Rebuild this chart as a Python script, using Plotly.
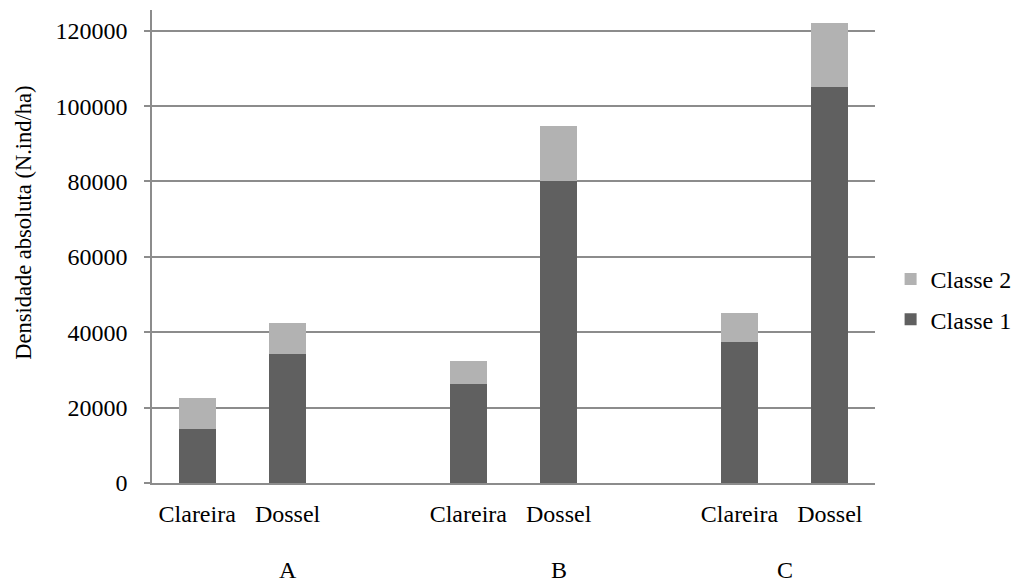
import plotly.graph_objects as go

groups = ["A", "B", "C"]
sites = ["Clareira", "Dossel"]
classe1 = [14300, 34200, 26200, 80000, 37400, 105100]
classe2 = [8200, 8200, 6300, 14700, 7600, 17000]
yticks = [0, 20000, 40000, 60000, 80000, 100000, 120000]

# build category slots: each group has its sites, then a blank spacer (except last)
slots = []
slot_group = []
for gi, g in enumerate(groups):
    for s in sites:
        slots.append(f"{g}|{s}")
        slot_group.append(g)
    if gi < len(groups) - 1:
        slots.append(f"{g}|")
        slot_group.append(g)

xcats = [f"{g}|{s}" for g in groups for s in sites]

FONT = "Liberation Serif, Times New Roman, serif"
DARK = "#606060"
LIGHT = "#b2b2b2"
GRID = "#8c8c8c"
FS = 24

fig = go.Figure()
fig.add_trace(go.Bar(x=xcats, y=classe1, name="Classe 1", marker_color=DARK,
                     marker_line_width=0, legendgroup="c1", legendrank=2))
fig.add_trace(go.Bar(x=xcats, y=classe2, name="Classe 2", marker_color=LIGHT,
                     marker_line_width=0, legendgroup="c2", legendrank=1))

annotations = []
for g in groups:
    idx = [i for i, sg in enumerate(slot_group) if sg == g]
    center = sum(idx) / len(idx)
    annotations.append(dict(x=center, xref="x", y=-0.184, yref="paper", text=g,
                            showarrow=False, font=dict(family=FONT, size=FS, color="black"),
                            yanchor="middle"))
annotations.append(dict(x=-0.178, xref="paper", y=0.5, yref="paper",
                        text="Densidade absoluta (N.ind/ha)", textangle=-90,
                        showarrow=False, font=dict(family=FONT, size=22.5, color="black"),
                        xanchor="center", yanchor="middle", yshift=24))

fig.update_layout(
    barmode="stack",
    bargap=0.59,
    width=1011, height=576,
    margin=dict(l=144, r=144, t=2, b=101, autoexpand=False),
    paper_bgcolor="white", plot_bgcolor="white",
    font=dict(family=FONT, size=FS, color="black"),
    showlegend=True,
    legend=dict(xref="container", yref="container", x=0.873, xanchor="left",
                y=0.494, yanchor="middle",
                traceorder="grouped", tracegroupgap=6,
                font=dict(family=FONT, size=FS, color="black"),
                bgcolor="rgba(0,0,0,0)"),
    annotations=annotations,
)
fig.update_xaxes(type="category", categoryorder="array", categoryarray=slots,
                 tickvals=xcats, ticktext=[s for g in groups for s in sites],
                 range=[-0.5, len(slots) - 0.5],
                 showgrid=False, showline=True, linecolor=GRID, linewidth=1.5,
                 ticks="", ticklabelstandoff=8,
                 tickfont=dict(family=FONT, size=FS, color="black"))
fig.update_yaxes(range=[0, 125500], tickvals=yticks, ticktext=[str(v) for v in yticks],
                 showgrid=True, gridcolor=GRID, gridwidth=1.5,
                 showline=True, linecolor=GRID, linewidth=1.5,
                 ticks="outside", ticklen=6, tickcolor=GRID, tickwidth=1.5,
                 ticklabelstandoff=12, zeroline=False,
                 tickfont=dict(family=FONT, size=FS, color="black"))

fig.write_html("out.html")
